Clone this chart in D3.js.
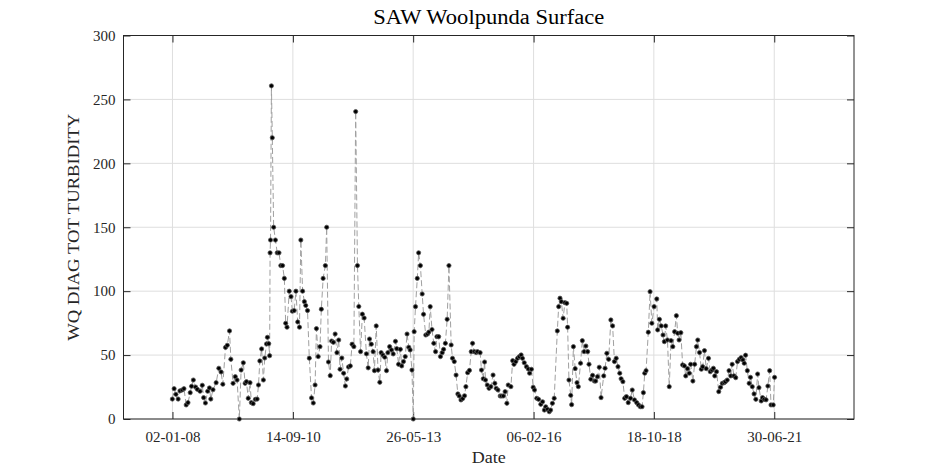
<!DOCTYPE html>
<html>
<head>
<meta charset="utf-8">
<script src="https://cdn.jsdelivr.net/npm/d3@7"></script>
<style>
  body { margin: 0; background: #fff; }
  svg { display: block; font-family: "Liberation Serif", "DejaVu Serif", serif; }
</style>
</head>
<body>
<svg id="chart"></svg>
<script>
// sample times as decimal years
var sampleYears = [
  2008.00, 2008.04, 2008.08, 2008.13, 2008.17, 2008.22, 2008.26, 2008.31, 2008.35, 2008.40,
  2008.43, 2008.47, 2008.52, 2008.56, 2008.62, 2008.67, 2008.70, 2008.74, 2008.79, 2008.83,
  2008.86, 2008.91, 2008.98, 2009.04, 2009.09, 2009.13, 2009.19, 2009.23, 2009.28, 2009.31,
  2009.36, 2009.41, 2009.45, 2009.50, 2009.54, 2009.59, 2009.63, 2009.66, 2009.70, 2009.74,
  2009.77, 2009.81, 2009.86, 2009.90, 2009.93, 2009.96, 2010.00, 2010.04, 2010.07, 2010.11,
  2010.13, 2010.16, 2010.18, 2010.19, 2010.20, 2010.22, 2010.24, 2010.27, 2010.31, 2010.35,
  2010.39, 2010.43, 2010.47, 2010.51, 2010.54, 2010.57, 2010.62, 2010.66, 2010.69, 2010.73,
  2010.77, 2010.81, 2010.85, 2010.88, 2010.92, 2010.96, 2010.99, 2011.03, 2011.07, 2011.12,
  2011.16, 2011.20, 2011.23, 2011.27, 2011.31, 2011.34, 2011.38, 2011.43, 2011.46, 2011.50,
  2011.54, 2011.57, 2011.61, 2011.65, 2011.69, 2011.73, 2011.76, 2011.80, 2011.84, 2011.88,
  2011.91, 2011.95, 2011.99, 2012.03, 2012.07, 2012.11, 2012.15, 2012.18, 2012.22, 2012.26,
  2012.30, 2012.35, 2012.39, 2012.42, 2012.46, 2012.50, 2012.53, 2012.57, 2012.61, 2012.65,
  2012.68, 2012.72, 2012.76, 2012.80, 2012.83, 2012.87, 2012.91, 2012.95, 2013.00, 2013.03,
  2013.07, 2013.11, 2013.14, 2013.18, 2013.22, 2013.26, 2013.30, 2013.33, 2013.37, 2013.40,
  2013.42, 2013.45, 2013.49, 2013.52, 2013.56, 2013.60, 2013.63, 2013.68, 2013.72, 2013.75,
  2013.78, 2013.82, 2013.86, 2013.90, 2013.93, 2013.97, 2014.01, 2014.05, 2014.08, 2014.12,
  2014.16, 2014.20, 2014.25, 2014.28, 2014.32, 2014.36, 2014.40, 2014.43, 2014.47, 2014.51,
  2014.55, 2014.58, 2014.62, 2014.66, 2014.70, 2014.73, 2014.77, 2014.81, 2014.84, 2014.90,
  2014.93, 2014.97, 2015.00, 2015.02, 2015.06, 2015.10, 2015.14, 2015.19, 2015.23, 2015.26,
  2015.30, 2015.35, 2015.38, 2015.42, 2015.46, 2015.50, 2015.53, 2015.59, 2015.63, 2015.66,
  2015.70, 2015.74, 2015.78, 2015.82, 2015.85, 2015.89, 2015.94, 2015.98, 2016.01, 2016.05,
  2016.09, 2016.12, 2016.17, 2016.21, 2016.26, 2016.30, 2016.34, 2016.37, 2016.41, 2016.45,
  2016.48, 2016.52, 2016.56, 2016.63, 2016.66, 2016.69, 2016.72, 2016.76, 2016.80, 2016.84,
  2016.86, 2016.89, 2016.93, 2016.95, 2016.99, 2017.03, 2017.07, 2017.10, 2017.15, 2017.19,
  2017.23, 2017.27, 2017.31, 2017.34, 2017.38, 2017.42, 2017.46, 2017.49, 2017.53, 2017.57,
  2017.61, 2017.67, 2017.70, 2017.74, 2017.78, 2017.83, 2017.87, 2017.91, 2017.95, 2017.99,
  2018.03, 2018.06, 2018.10, 2018.14, 2018.18, 2018.22, 2018.27, 2018.31, 2018.36, 2018.41,
  2018.45, 2018.49, 2018.53, 2018.56, 2018.59, 2018.62, 2018.67, 2018.71, 2018.75, 2018.80,
  2018.86, 2018.88, 2018.92, 2018.96, 2019.00, 2019.03, 2019.06, 2019.10, 2019.14, 2019.18,
  2019.22, 2019.26, 2019.30, 2019.33, 2019.36, 2019.40, 2019.44, 2019.48, 2019.51, 2019.55,
  2019.59, 2019.62, 2019.67, 2019.71, 2019.75, 2019.78, 2019.82, 2019.86, 2019.89, 2019.93,
  2019.97, 2020.02, 2020.06, 2020.10, 2020.13, 2020.16, 2020.20, 2020.25, 2020.29, 2020.33,
  2020.37, 2020.40, 2020.44, 2020.48, 2020.52, 2020.55, 2020.59, 2020.63, 2020.67, 2020.71,
  2020.75, 2020.79, 2020.82, 2020.85, 2020.89, 2020.93, 2020.96, 2021.00, 2021.04, 2021.08,
  2021.12, 2021.15, 2021.20, 2021.23, 2021.27, 2021.31, 2021.35, 2021.39, 2021.42, 2021.47,
  2021.50
];

var turbidity = [
  15.6, 23.7, 19.3, 15.6, 22, 22.7, 23.7, 11, 12.8, 20.6,
  25.6, 30.5, 25, 23.2, 21.7, 26.4, 16.7, 12.5, 21.7, 24.3,
  15.6, 22.9, 28.4, 39.7, 36.8, 27.2, 56, 57.7, 68.9, 46.7,
  27.9, 33.1, 30.5, 0, 38.3, 44, 27.9, 29.2, 16.2, 28.4,
  12.8, 12, 15.4, 15.6, 26.6, 45.4, 54.8, 30.5, 47.7, 58.7,
  63.9, 58.9, 49.5, 130, 140, 260.6, 220, 150, 140, 130,
  130, 120, 120, 110, 74.9, 71.8, 100, 95.7, 84.3, 84.8,
  100, 75.9, 71.8, 140, 100, 91.8, 88.8, 84.8, 47.6, 16.5,
  12.5, 26.6, 70.7, 48.8, 56.6, 85.9, 110, 120, 150, 44.6,
  33.9, 61, 60, 66.5, 51.9, 61.8, 38.9, 47.7, 35.8, 25.8,
  31.3, 40.7, 41.5, 58.5, 56.6, 240.5, 120, 88, 52.7, 82,
  79, 51, 40, 62.6, 58.5, 52.7, 37.8, 72.8, 38.3, 28.7,
  51.9, 50, 48.3, 37.8, 51.9, 56.6, 54, 50.9, 60.8, 55,
  42.8, 54.5, 41.5, 44.9, 48.8, 66.5, 56.1, 54, 38.3, 0,
  68.3, 87.9, 110, 130, 120, 97.8, 81.9, 65.7, 66.5, 68,
  87.9, 70, 59.2, 52.7, 64.4, 64.4, 48.8, 51.9, 54.5, 59.2,
  78, 120, 57.9, 47.5, 44.9, 34.4, 19.6, 18, 14.9, 16,
  18.2, 25.3, 36.2, 38, 52.7, 59.2, 52.7, 52, 52.7, 51.9,
  38.3, 31.5, 44.6, 30.5, 26.6, 24, 25.3, 34.4, 27.9, 24,
  22.7, 18, 18, 18, 21.4, 12.3, 26.6, 25.3, 45.6, 42.8,
  44.9, 47.5, 48.8, 50.1, 47.5, 44, 40.9, 39.1, 35.8, 38.9,
  24.8, 22.7, 16.2, 15.4, 11.5, 13.5, 7, 9.6, 7.6, 5.7,
  7, 12.3, 16.2, 68.9, 87.9, 94.5, 91.8, 78.8, 91, 90.5,
  71.8, 30.5, 18.5, 11.2, 56.6, 39.4, 28.4, 25.3, 43.6, 61.3,
  52.7, 57.1, 52.7, 42.8, 31.1, 34.2, 29.7, 29.7, 33.1, 40.5,
  16.7, 33.7, 39.7, 51.4, 46.7, 77.5, 72.8, 44.9, 47.5, 40.9,
  35.8, 31.5, 29.2, 16.2, 17.5, 12.8, 16.2, 22.7, 14.9, 12.8,
  11, 9.6, 9.6, 20.6, 35.8, 37.8, 67.9, 99.6, 74.9, 87.9,
  93.9, 69.7, 78, 72.8, 65.7, 60.5, 72.8, 61.8, 25.3, 61.3,
  56.6, 68.3, 80.8, 67.1, 61.8, 67.5, 42.3, 41.5, 33.7, 39.4,
  35.8, 42.8, 29.7, 42.8, 56.6, 61.8, 52, 38.9, 40.9, 53.5,
  39.4, 47.5, 37, 38.3, 39.7, 33.7, 37, 21.4, 24.8, 27.9,
  28.4, 29.2, 30.5, 37.8, 33.7, 42.8, 33.7, 32.3, 44.9, 46.7,
  48, 46.2, 43.6, 49.9, 37.8, 27.9, 32.6, 25.3, 19.6, 15.4,
  35.2, 24.5, 14.1, 16.7, 15.4, 15, 25.8, 37.8, 11, 11,
  32.6
];

var yTicks = [0, 50, 100, 150, 200, 250, 300];
var xTickDates = ["2008-01-02", "2010-09-14", "2013-05-26", "2016-02-06", "2018-10-18", "2021-06-30"];
var xDomainDates = ["2006-11-27", "2023-04-14"];

var W = 945, H = 472;
var margin = { top: 35.5, right: 91, bottom: 53, left: 123.5 };
var width = W - margin.left - margin.right,
    height = H - margin.top - margin.bottom;

function yearToDate(y) {
    var yr = Math.floor(y);
    var start = Date.UTC(yr, 0, 1), end = Date.UTC(yr + 1, 0, 1);
    return new Date(start + (y - yr) * (end - start));
}
var parse = d3.utcParse("%Y-%m-%d");

var data = sampleYears.map(function(y, i) { return { date: yearToDate(y), value: turbidity[i] }; });

var svg = d3.select("#chart").attr("width", W).attr("height", H);

var x = d3.scaleUtc().domain(xDomainDates.map(parse)).range([0, width]);
var y = d3.scaleLinear().domain([0, 300]).range([height, 0]);

var g = svg.append("g").attr("transform", "translate(" + margin.left + "," + margin.top + ")");

// grid
g.append("g").selectAll("line").data(yTicks).enter().append("line")
    .attr("x1", 0).attr("x2", width)
    .attr("y1", function(d) { return y(d); }).attr("y2", function(d) { return y(d); })
    .attr("stroke", "#dedede").attr("stroke-width", 1);
g.append("g").selectAll("line").data(xTickDates.map(parse)).enter().append("line")
    .attr("y1", 0).attr("y2", height)
    .attr("x1", function(d) { return x(d); }).attr("x2", function(d) { return x(d); })
    .attr("stroke", "#dedede").attr("stroke-width", 1);

// axes, MATLAB style: ticks pointing in on every side
var fmt = d3.utcFormat("%d-%m-%y");
var tickLen = 7;
var xb = g.append("g").attr("transform", "translate(0," + height + ")")
    .call(d3.axisBottom(x).tickValues(xTickDates.map(parse)).tickFormat(fmt).tickSizeInner(-tickLen).tickSizeOuter(0).tickPadding(12));
var xt = g.append("g")
    .call(d3.axisTop(x).tickValues(xTickDates.map(parse)).tickFormat("").tickSizeInner(-tickLen).tickSizeOuter(0));
var yl = g.append("g")
    .call(d3.axisLeft(y).tickValues(yTicks).tickSizeInner(-tickLen).tickSizeOuter(0).tickPadding(8));
var yr = g.append("g").attr("transform", "translate(" + width + ",0)")
    .call(d3.axisRight(y).tickValues(yTicks).tickFormat("").tickSizeInner(-tickLen).tickSizeOuter(0));

[xb, xt, yl, yr].forEach(function(a) {
    a.select(".domain").remove();
    a.selectAll("line").attr("stroke", "#262626").attr("stroke-width", 1);
    a.selectAll("text").attr("fill", "#262626").style("font-size", "15px")
        .style("font-family", "'Liberation Serif', serif");
});

g.append("rect").attr("width", width).attr("height", height)
    .attr("fill", "none").attr("stroke", "#262626").attr("stroke-width", 1);

// series
var line = d3.line().x(function(d) { return x(d.date); }).y(function(d) { return y(d.value); });
g.append("path").datum(data).attr("d", line)
    .attr("fill", "none").attr("stroke", "#a0a0a0").attr("stroke-width", 1)
    .attr("stroke-dasharray", "6,3");

g.append("g").selectAll("circle").data(data).enter().append("circle")
    .attr("cx", function(d) { return x(d.date); })
    .attr("cy", function(d) { return y(d.value); })
    .attr("r", 2.1)
    .attr("fill", "#000").attr("stroke", "#555").attr("stroke-width", 0.8);

// labels
svg.append("text").attr("x", margin.left + width / 2).attr("y", 24)
    .attr("text-anchor", "middle").style("font-size", "20px").attr("fill", "#000")
    .attr("textLength", 231).attr("lengthAdjust", "spacingAndGlyphs")
    .text("SAW Woolpunda Surface");
svg.append("text").attr("x", margin.left + width / 2).attr("y", 463)
    .attr("text-anchor", "middle").style("font-size", "17px").attr("fill", "#262626")
    .attr("textLength", 34).attr("lengthAdjust", "spacingAndGlyphs")
    .text("Date");
svg.append("text").attr("transform", "translate(79," + (margin.top + height / 2) + ") rotate(-90)")
    .attr("text-anchor", "middle").style("font-size", "17px").attr("fill", "#262626")
    .attr("textLength", 227).attr("lengthAdjust", "spacingAndGlyphs")
    .text("WQ DIAG TOT TURBIDITY");
</script>
</body>
</html>
